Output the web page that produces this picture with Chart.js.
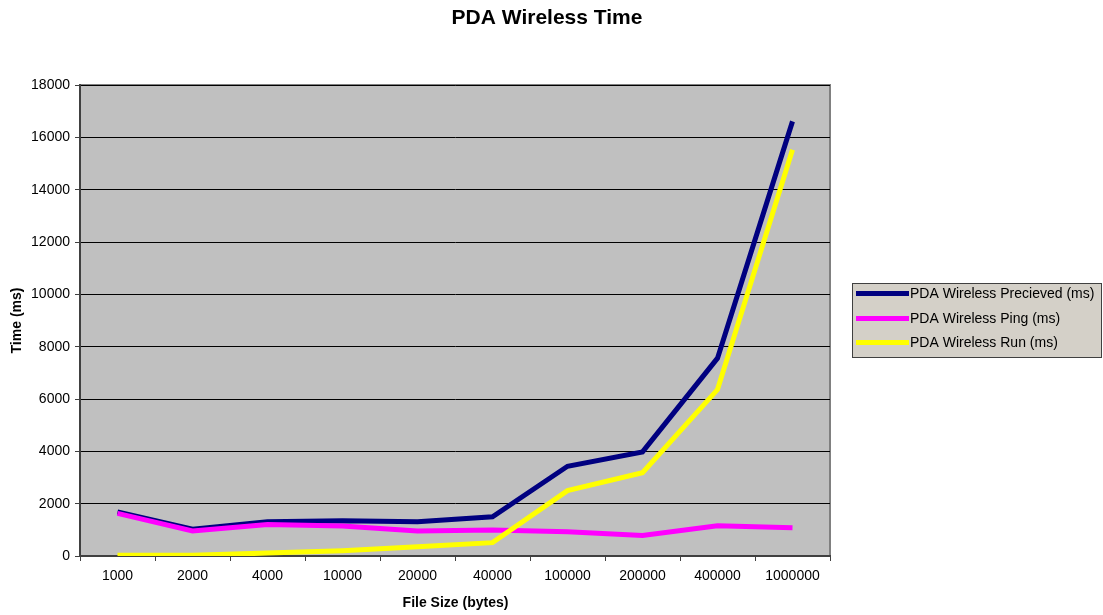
<!DOCTYPE html>
<html>
<head>
<meta charset="utf-8">
<script src="https://cdn.jsdelivr.net/npm/chart.js@4.4.1/dist/chart.umd.min.js"></script>
<style>
  html, body { margin: 0; padding: 0; background: #ffffff; }
  #wrap { width: 1103px; height: 615px; position: relative; }
</style>
</head>
<body>
<div id="wrap"><canvas id="c" width="1103" height="615"></canvas></div>
<script>
// File sizes tested (bytes)
const fileSizes = ['1000', '2000', '4000', '10000', '20000', '40000', '100000', '200000', '400000', '1000000'];

// Measured times (ms)
const perceivedMs = [1680, 1020, 1310, 1350, 1310, 1500, 3430, 3980, 7560, 16610];
const pingMs      = [1630, 960, 1200, 1150, 960, 990, 930, 780, 1160, 1080];
const runMs       = [30, 30, 110, 200, 350, 510, 2500, 3180, 6360, 15530];

const seriesNames  = ['PDA Wireless Precieved (ms)', 'PDA Wireless Ping (ms)', 'PDA Wireless Run (ms)'];
const seriesColors = ['#000080', '#ff00ff', '#ffff00'];

const chartTitle = 'PDA Wireless Time';
const xTitle = 'File Size (bytes)';
const yTitle = 'Time (ms)';

const FONT = '"Liberation Sans", Arial, sans-serif';

// Grey plot panel behind the lines
const plotPanel = {
  id: 'plotPanel',
  beforeDraw(chart) {
    const { ctx, chartArea: a } = chart;
    ctx.save();
    ctx.fillStyle = '#c0c0c0';
    ctx.fillRect(a.left, a.top, a.right - a.left, a.bottom - a.top);
    ctx.strokeStyle = '#808080';
    ctx.lineWidth = 2;
    ctx.beginPath();
    ctx.moveTo(a.left, a.top);
    ctx.lineTo(a.right, a.top);
    ctx.lineTo(a.right, a.bottom);
    ctx.stroke();
    ctx.restore();
  }
};

// Titles and the boxed legend on the right
const decorations = {
  id: 'decorations',
  afterDraw(chart) {
    const { ctx, chartArea: a } = chart;
    ctx.save();
    ctx.fillStyle = '#000';
    ctx.textAlign = 'center';
    ctx.textBaseline = 'middle';
    ctx.font = 'bold 21px ' + FONT;
    ctx.fillText(chartTitle, 547, 18);

    ctx.font = 'bold 14px ' + FONT;
    ctx.fillText(xTitle, 455.5, 603);

    ctx.save();
    ctx.translate(17, (a.top + a.bottom) / 2);
    ctx.rotate(-Math.PI / 2);
    ctx.fillText(yTitle, 0, 0);
    ctx.restore();

    // legend box
    const bx = 852.5, by = 283.5, bw = 249, bh = 74;
    ctx.fillStyle = '#d4d0c8';
    ctx.fillRect(bx, by, bw, bh);
    ctx.strokeStyle = '#404040';
    ctx.lineWidth = 1;
    ctx.strokeRect(bx, by, bw, bh);

    ctx.font = '14px ' + FONT;
    ctx.textAlign = 'left';
    const rows = [293.5, 318.5, 342.5];
    chart.data.datasets.forEach((ds, i) => {
      const y = rows[i];
      ctx.strokeStyle = ds.borderColor;
      ctx.lineWidth = 5;
      ctx.beginPath();
      ctx.moveTo(856, y);
      ctx.lineTo(909, y);
      ctx.stroke();
      ctx.fillStyle = '#000';
      ctx.fillText(ds.label, 910, y + 1);
    });
    ctx.restore();
  }
};

const datasets = [perceivedMs, pingMs, runMs].map((vals, i) => ({
  label: seriesNames[i],
  data: vals,
  borderColor: seriesColors[i],
  backgroundColor: seriesColors[i],
  borderWidth: 5,
  pointRadius: 0,
  tension: 0,
  borderJoinStyle: 'miter',
  order: 3 - i
}));

new Chart(document.getElementById('c'), {
  type: 'line',
  data: { labels: fileSizes, datasets },
  plugins: [plotPanel, decorations],
  options: {
    responsive: false,
    animation: false,
    layout: { padding: { top: 85, right: 273, bottom: 0, left: 0 } },
    plugins: {
      legend: { display: false },
      title: { display: false },
      tooltip: { enabled: false }
    },
    scales: {
      x: {
        offset: true,
        grid: {
          offset: true,
          drawOnChartArea: false,
          drawTicks: true,
          tickLength: 5,
          tickColor: '#404040',
          tickWidth: 1
        },
        border: { color: '#404040', width: 2 },
        ticks: { color: '#000', font: { family: FONT, size: 14 }, padding: 7, maxRotation: 0, autoSkip: false },
        afterFit(scale) { scale.height = 59; }
      },
      y: {
        min: 0,
        max: 18000,
        ticks: {
          stepSize: 2000,
          color: '#000',
          font: { family: FONT, size: 14 },
          padding: 5,
          callback: (v) => String(v)
        },
        grid: {
          color: '#000',
          lineWidth: 1,
          tickLength: 5,
          tickColor: '#404040',
          drawTicks: true
        },
        border: { color: '#404040', width: 2 },
        afterFit(scale) { scale.width = 80; }
      }
    }
  }
});
</script>
</body>
</html>
